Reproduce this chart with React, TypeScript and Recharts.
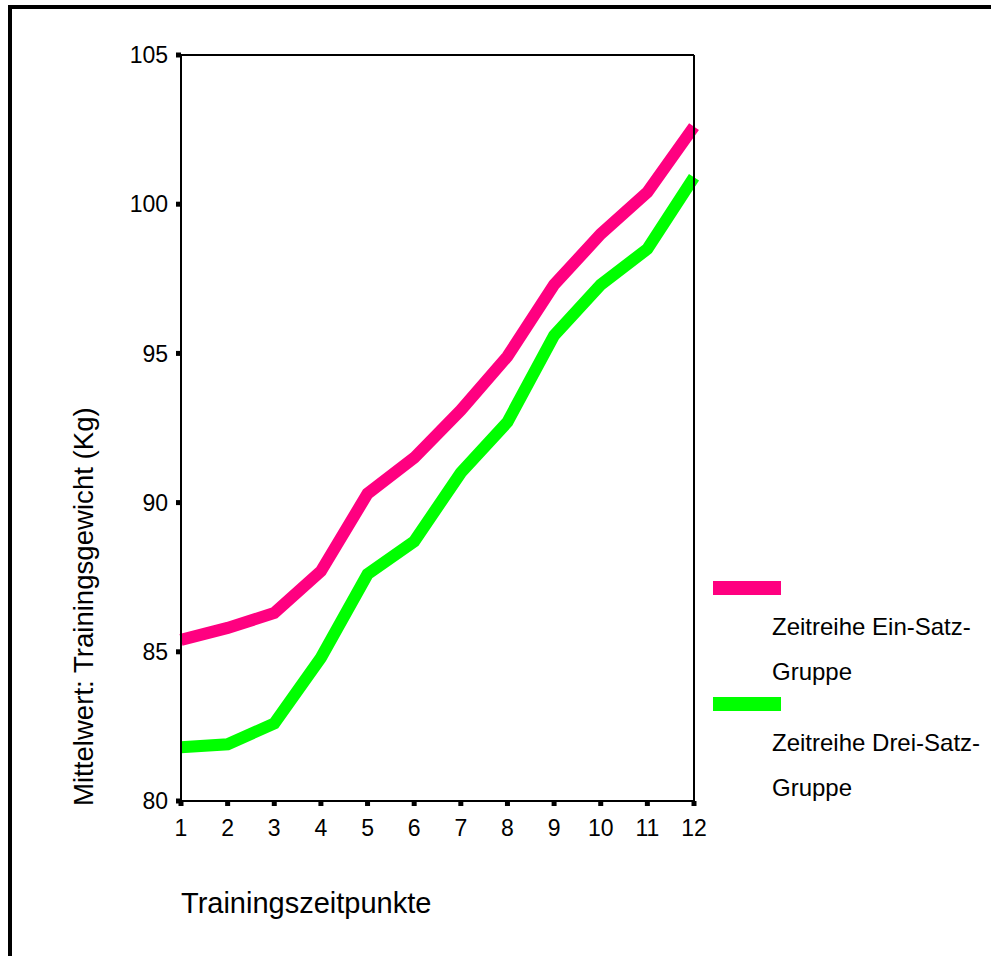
import React from "react";
import {
  LineChart,
  Line,
  XAxis,
  YAxis,
  Legend,
  ReferenceLine,
} from "recharts";

// Trainingszeitpunkte 1..12
const zeitpunkte = [1, 2, 3, 4, 5, 6, 7, 8, 9, 10, 11, 12];
// Mittelwerte in kg
const einSatz = [85.4, 85.8, 86.3, 87.7, 90.3, 91.5, 93.1, 94.9, 97.3, 99.0, 100.4, 102.6];
const dreiSatz = [81.8, 81.9, 82.6, 84.8, 87.6, 88.7, 91.0, 92.7, 95.6, 97.3, 98.5, 100.9];
const yTicks = [80, 85, 90, 95, 100, 105];

const data = zeitpunkte.map((t, i) => ({
  t,
  g1: einSatz[i],
  g2: dreiSatz[i],
}));

const FONT = '"Liberation Sans", Arial, Helvetica, sans-serif';

const XTick = (props: any) => {
  const { x, y, payload } = props;
  return (
    <text
      x={x}
      y={y + 28}
      textAnchor="middle"
      fill="#000"
      style={{ fontFamily: FONT, fontSize: 23 }}
    >
      {payload.value}
    </text>
  );
};

const LegendBox = (props: any) => {
  const { payload } = props;
  return (
    <div style={{ fontFamily: FONT, fontSize: 24, color: "#000" }}>
      {(payload || []).map((p: any, i: number) => (
        <div key={i}>
          <div
            style={{
              width: 68,
              height: 14,
              background: p.color,
              marginTop: i === 0 ? 0 : 3,
            }}
          />
          <div
            style={{
              marginLeft: 59,
              marginTop: 9,
              width: 215,
              lineHeight: "45px",
            }}
          >
            {p.value}
          </div>
        </div>
      ))}
    </div>
  );
};

export default function App() {
  return (
    <div
      style={{
        position: "absolute",
        left: 0,
        top: 0,
        width: 991,
        height: 956,
        background: "#fff",
        overflow: "hidden",
      }}
    >
      <div
        style={{
          position: "absolute",
          left: 8,
          top: 5,
          right: 0,
          bottom: 0,
          borderTop: "4px solid #000",
          borderLeft: "4px solid #000",
        }}
      />
      <LineChart
        width={991}
        height={956}
        data={data}
        margin={{ top: 55, right: 297, left: 121, bottom: 125 }}
        style={{ position: "absolute", left: 0, top: 0 }}
      >
        <XAxis
          dataKey="t"
          type="number"
          domain={[1, 12]}
          ticks={zeitpunkte}
          height={30}
          axisLine={{ stroke: "#000", strokeWidth: 2 }}
          tickLine={{ stroke: "#000", strokeWidth: 5 }}
          tickSize={5}
          tick={<XTick />}
          label={{
            content: (p: any) => {
              const vb = p.viewBox || {};
              return (
                <text
                  x={vb.x}
                  y={vb.y + 112}
                  fill="#000"
                  style={{ fontFamily: FONT, fontSize: 29 }}
                >
                  Trainingszeitpunkte
                </text>
              );
            },
          }}
        />
        <YAxis
          type="number"
          domain={[80, 105]}
          ticks={yTicks}
          width={60}
          axisLine={{ stroke: "#000", strokeWidth: 2 }}
          tickLine={{ stroke: "#000", strokeWidth: 5 }}
          tickSize={5}
          tickMargin={8}
          tick={{ fill: "#000", fontSize: 23, fontFamily: FONT }}
          label={{
            content: (p: any) => {
              const vb = p.viewBox || {};
              const x = vb.x - 28;
              const y = vb.y + vb.height + 5;
              return (
                <text
                  x={x}
                  y={y}
                  transform={`rotate(-90, ${x}, ${y})`}
                  fill="#000"
                  style={{ fontFamily: FONT, fontSize: 27.6 }}
                >
                  Mittelwert: Trainingsgewicht (Kg)
                </text>
              );
            },
          }}
        />
        <Line
          dataKey="g1"
          name="Zeitreihe Ein-Satz-Gruppe"
          type="linear"
          stroke="#FF0080"
          strokeWidth={12}
          dot={false}
          activeDot={false}
          isAnimationActive={false}
        />
        <Line
          dataKey="g2"
          name="Zeitreihe Drei-Satz-Gruppe"
          type="linear"
          stroke="#00FF00"
          strokeWidth={12}
          dot={false}
          activeDot={false}
          isAnimationActive={false}
        />
        <ReferenceLine y={105} stroke="#000" strokeWidth={2} />
        <ReferenceLine x={12} stroke="#000" strokeWidth={2} />
        <Legend
          layout="vertical"
          align="center"
          verticalAlign="middle"
          itemSorter="dataKey"
          content={<LegendBox />}
          wrapperStyle={{ left: 713, top: 581, width: 278 }}
        />
      </LineChart>
    </div>
  );
}
